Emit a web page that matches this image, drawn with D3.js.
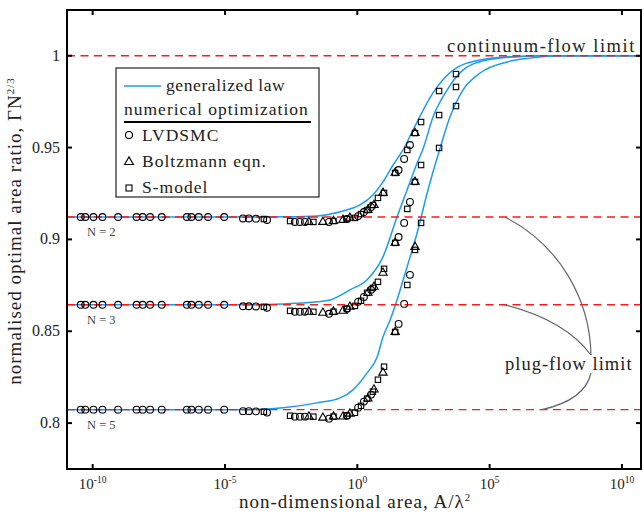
<!DOCTYPE html>
<meta charset="utf-8">
<style>
body { margin: 0; background: #fff; }
text { font-family: "Liberation Serif", "DejaVu Serif", serif; fill: #222; }
.lbl { letter-spacing: 1px; }
</style>
<body>
<script src="https://d3js.org/d3.v7.min.js"></script>
<script>
// plug-flow limits for N = 2, 3, 5
var nLabels = ["N = 2", "N = 3", "N = 5"];
var plugLimit = [0.9122, 0.8644, 0.8073];

// generalized law, [log10 A, ratio]
var lawN2 = [[-10.97,0.9122],[-4.06,0.9122],[-2.55,0.9123],[-1.52,0.9128],[-0.54,0.9155],[0.10,0.9188],[0.59,0.9242],[0.97,0.9313],[1.35,0.9405],[1.73,0.9487],[2.11,0.9597],[2.86,0.9798],[3.62,0.9922],[4.64,0.9977],[5.89,0.9995],[7.09,1.0],[10.72,1.0]];
var lawN3 = [[-10.97,0.8644],[-4.06,0.8644],[-2.80,0.8649],[-1.52,0.8660],[-1.03,0.8670],[-0.28,0.8725],[0.37,0.8780],[0.97,0.8905],[1.50,0.9122],[1.88,0.9269],[2.26,0.9416],[2.49,0.9495],[2.86,0.9666],[3.39,0.9813],[3.99,0.9922],[4.90,0.9977],[5.89,0.9993],[7.28,1.0],[10.72,1.0]];
var lawN5 = [[-10.97,0.8073],[-4.06,0.8073],[-2.80,0.8083],[-1.52,0.8110],[-0.65,0.8137],[-0.16,0.8181],[0.37,0.8273],[0.75,0.8360],[0.97,0.8469],[1.24,0.8561],[1.50,0.8670],[1.88,0.8850],[2.26,0.9035],[2.64,0.9253],[3.13,0.9498],[3.50,0.9666],[3.99,0.9813],[4.64,0.9906],[5.66,0.9966],[6.53,0.9987],[7.66,1.0],[10.72,1.0]];

// LVDSMC (circles)
var dsmcX  = [-10.45,-10.28,-9.97,-9.63,-9.04,-8.34,-8.11,-7.83,-7.39,-6.44,-6.27,-5.99,-5.64,-5.03,-4.32,-4.10,-3.83,-3.41,-2.36,-2.17,-1.98,-1.07,-0.39,0.03,0.25,0.52,1.56,1.77,1.99];
var dsmcN2 = [0.9122,0.9122,0.9122,0.9122,0.9122,0.9122,0.9122,0.9122,0.9122,0.9122,0.9122,0.9122,0.9122,0.9122,0.9114,0.9114,0.9113,0.9106,0.9095,0.9095,0.9095,0.9095,0.9111,0.9127,0.9149,0.9176,0.9378,0.9438,0.9514];
var dsmcN3 = [0.8644,0.8644,0.8644,0.8644,0.8644,0.8644,0.8644,0.8644,0.8644,0.8644,0.8644,0.8644,0.8644,0.8644,0.8636,0.8636,0.8635,0.8628,0.8606,0.8606,0.8606,0.8595,0.8622,0.8660,0.8687,0.8726,0.9013,0.9090,0.9204];
var dsmcN5 = [0.8073,0.8073,0.8073,0.8073,0.8073,0.8073,0.8073,0.8073,0.8073,0.8073,0.8073,0.8073,0.8073,0.8073,0.8065,0.8065,0.8064,0.8057,0.8035,0.8035,0.8035,0.8024,0.8040,0.8084,0.8117,0.8155,0.8540,0.8649,0.8807];

// Boltzmann eqn. (triangles)
var boltzX  = [-1.83,-1.30,-0.90,-0.54,-0.28,0.40,0.63,0.97,1.43,2.18];
var boltzN2 = [0.9095,0.9095,0.9100,0.9106,0.9117,0.9160,0.9187,0.9253,0.9362,0.9579];
var boltzN3 = [0.8606,0.8600,0.8606,0.8611,0.8633,0.8709,0.8742,0.8818,0.8981,0.9313];
var boltzN5 = [0.8035,0.8029,0.8035,0.8035,0.8051,0.8133,0.8182,0.8274,0.8496,0.8959];

// S-model (squares)
var smodX  = [-3.53,-2.54,-1.66,-0.90,-0.39,-0.09,0.14,0.37,0.59,0.78,1.01,1.43,1.89,2.18,2.41,3.09,3.73];
var smodN2 = [0.9111,0.9100,0.9095,0.9100,0.9111,0.9117,0.9138,0.9160,0.9187,0.9226,0.9253,0.9362,0.9487,0.9579,0.9639,0.9808,0.9900];
var smodN3 = [0.8633,0.8611,0.8606,0.8606,0.8622,0.8638,0.8666,0.8709,0.8736,0.8769,0.8840,0.8981,0.9166,0.9313,0.9405,0.9677,0.9830];
var smodN5 = [0.8062,0.8040,0.8035,0.8035,0.8040,0.8056,0.8094,0.8133,0.8171,0.8236,0.8307,0.8496,0.8752,0.8943,0.9090,0.9498,0.9726];

var xTickExp = [-10, -5, 0, 5, 10];
var yTicks = [0.8, 0.85, 0.9, 0.95, 1];
var yTickLabels = ["0.8", "0.85", "0.9", "0.95", "1"];

var margin = {top: 10, right: 3, bottom: 46, left: 67},
    width = 644 - margin.left - margin.right,
    height = 515 - margin.top - margin.bottom;

var x = d3.scaleLog().domain([Math.pow(10, -10.97), Math.pow(10, 10.72)]).range([0, width]);
var y = d3.scaleLinear().domain([0.775, 1.0249]).range([height, 0]);

var svg = d3.select("body").append("svg")
    .attr("width", 644)
    .attr("height", 515)
  .append("g")
    .attr("transform", "translate(" + margin.left + "," + margin.top + ")");

var blue = "#1a9bf5", red = "#f01e1e";

// generalized law curves
var line = d3.line()
    .x(function(d) { return x(Math.pow(10, d[0])); })
    .y(function(d) { return y(d[1]); })
    .curve(d3.curveMonotoneX);

[lawN2, lawN3, lawN5].forEach(function(c) {
  svg.append("path").datum(c)
    .attr("d", line)
    .attr("fill", "none")
    .attr("stroke", blue)
    .attr("stroke-width", 1.5);
});

// limits
[1].concat(plugLimit).forEach(function(v) {
  svg.append("line")
    .attr("x1", 0).attr("x2", width)
    .attr("y1", y(v)).attr("y2", y(v))
    .attr("stroke", red)
    .attr("stroke-width", 1.4)
    .attr("stroke-dasharray", "8,5.5");
});

// markers
function pts(xs, ys) { return xs.map(function(e, i) { return [e, ys[i]]; }); }

var circ = [].concat(pts(dsmcX, dsmcN2), pts(dsmcX, dsmcN3), pts(dsmcX, dsmcN5));
var tri = [].concat(pts(boltzX, boltzN2), pts(boltzX, boltzN3), pts(boltzX, boltzN5));
var sq = [].concat(pts(smodX, smodN2), pts(smodX, smodN3), pts(smodX, smodN5));

svg.selectAll(".circ").data(circ).enter().append("circle")
    .attr("class", "circ")
    .attr("cx", function(d) { return x(Math.pow(10, d[0])); })
    .attr("cy", function(d) { return y(d[1]); })
    .attr("r", 3.4)
    .attr("fill", "none").attr("stroke", "#000").attr("stroke-width", 1.1);

svg.selectAll(".tri").data(tri).enter().append("path")
    .attr("class", "tri")
    .attr("d", d3.symbol().type(d3.symbolTriangle).size(30))
    .attr("transform", function(d) { return "translate(" + x(Math.pow(10, d[0])) + "," + y(d[1]) + ")"; })
    .attr("fill", "none").attr("stroke", "#000").attr("stroke-width", 1.1);

svg.selectAll(".sq").data(sq).enter().append("rect")
    .attr("class", "sq")
    .attr("x", function(d) { return x(Math.pow(10, d[0])) - 2.7; })
    .attr("y", function(d) { return y(d[1]) - 2.7; })
    .attr("width", 5.4).attr("height", 5.4)
    .attr("fill", "none").attr("stroke", "#000").attr("stroke-width", 1.1);

// frame and ticks
svg.append("rect")
    .attr("width", width).attr("height", height)
    .attr("fill", "none").attr("stroke", "#000").attr("stroke-width", 2);

xTickExp.forEach(function(e) {
  var px = x(Math.pow(10, e));
  svg.append("line").attr("x1", px).attr("x2", px).attr("y1", height).attr("y2", height - 5).attr("stroke", "#000").attr("stroke-width", 2);
  svg.append("line").attr("x1", px).attr("x2", px).attr("y1", 0).attr("y2", 5).attr("stroke", "#000").attr("stroke-width", 2);
  var t = svg.append("text").attr("x", px).attr("y", height + 20).attr("text-anchor", "middle").style("font-size", "15px");
  t.append("tspan").text("10");
  t.append("tspan").attr("dy", -6).style("font-size", "9.5px").text(e);
});

yTicks.forEach(function(v, i) {
  var py = y(v);
  svg.append("line").attr("x1", 0).attr("x2", 5).attr("y1", py).attr("y2", py).attr("stroke", "#000").attr("stroke-width", 2);
  svg.append("line").attr("x1", width).attr("x2", width - 5).attr("y1", py).attr("y2", py).attr("stroke", "#000").attr("stroke-width", 2);
  svg.append("text").attr("x", -7).attr("y", py + 5).attr("text-anchor", "end").style("font-size", "16px").text(yTickLabels[i]);
});

// axis titles
var xt = svg.append("text").attr("class", "lbl").attr("x", 288).attr("y", height + 39).attr("text-anchor", "middle").style("font-size", "19px");
xt.append("tspan").text("non-dimensional area, A/\u03bb");
xt.append("tspan").attr("dy", -7).style("font-size", "11px").text("2");

var yt = svg.append("text").attr("class", "lbl").attr("transform", "translate(-46,221) rotate(-90)").attr("text-anchor", "middle").style("font-size", "19px");
yt.append("tspan").text("normalised optimal area ratio, \u0393N");
yt.append("tspan").attr("dy", -7).style("font-size", "11px").text("2/3");

// N labels
plugLimit.forEach(function(v, i) {
  svg.append("text").attr("x", 20).attr("y", y(v) + 19).style("font-size", "12.5px").style("fill", "#444").text(nLabels[i]);
});

// annotations
svg.append("text").attr("x", 380).attr("y", 42).style("font-size", "18.5px").style("letter-spacing", "1.5px").text("continuum-flow limit");
svg.append("text").attr("class", "lbl").attr("x", 438).attr("y", 360).style("font-size", "18.5px").text("plug-flow limit");

var gray = "#666";
svg.append("path").attr("d", "M438," + y(plugLimit[0]) + " C493,235 523,290 524,345").attr("fill", "none").attr("stroke", gray).attr("stroke-width", 1.2);
svg.append("path").attr("d", "M438," + y(plugLimit[1]) + " Q498,310 524,345").attr("fill", "none").attr("stroke", gray).attr("stroke-width", 1.2);
svg.append("path").attr("d", "M475," + y(plugLimit[2]) + " Q518,390 524,363").attr("fill", "none").attr("stroke", gray).attr("stroke-width", 1.2);

// legend
var lg = svg.append("g").attr("transform", "translate(49,58)");
lg.append("rect").attr("width", 203).attr("height", 129).attr("fill", "#fff").attr("stroke", "#333").attr("stroke-width", 1.3);
lg.append("line").attr("x1", 8).attr("x2", 45).attr("y1", 18).attr("y2", 18).attr("stroke", blue).attr("stroke-width", 1.6);
lg.append("text").attr("x", 50).attr("y", 23).style("font-size", "17.5px").style("letter-spacing", "0.6px").text("generalized law");
lg.append("text").attr("class", "lbl").attr("x", 8).attr("y", 47).style("font-size", "17.5px").text("numerical optimization");
lg.append("line").attr("x1", 8).attr("x2", 195).attr("y1", 54).attr("y2", 54).attr("stroke", "#000").attr("stroke-width", 2);
lg.append("circle").attr("cx", 13).attr("cy", 67).attr("r", 3.5).attr("fill", "none").attr("stroke", "#000").attr("stroke-width", 1.1);
lg.append("text").attr("class", "lbl").attr("x", 26).attr("y", 73).style("font-size", "17.5px").text("LVDSMC");
lg.append("path").attr("d", d3.symbol().type(d3.symbolTriangle).size(34)).attr("transform", "translate(13,94)").attr("fill", "none").attr("stroke", "#000").attr("stroke-width", 1.1);
lg.append("text").attr("class", "lbl").attr("x", 26).attr("y", 99).style("font-size", "17.5px").text("Boltzmann eqn.");
lg.append("rect").attr("x", 10).attr("y", 117).attr("width", 6).attr("height", 6).attr("fill", "none").attr("stroke", "#000").attr("stroke-width", 1.1);
lg.append("text").attr("class", "lbl").attr("x", 26).attr("y", 125).style("font-size", "17.5px").text("S-model");
</script>
</body>
